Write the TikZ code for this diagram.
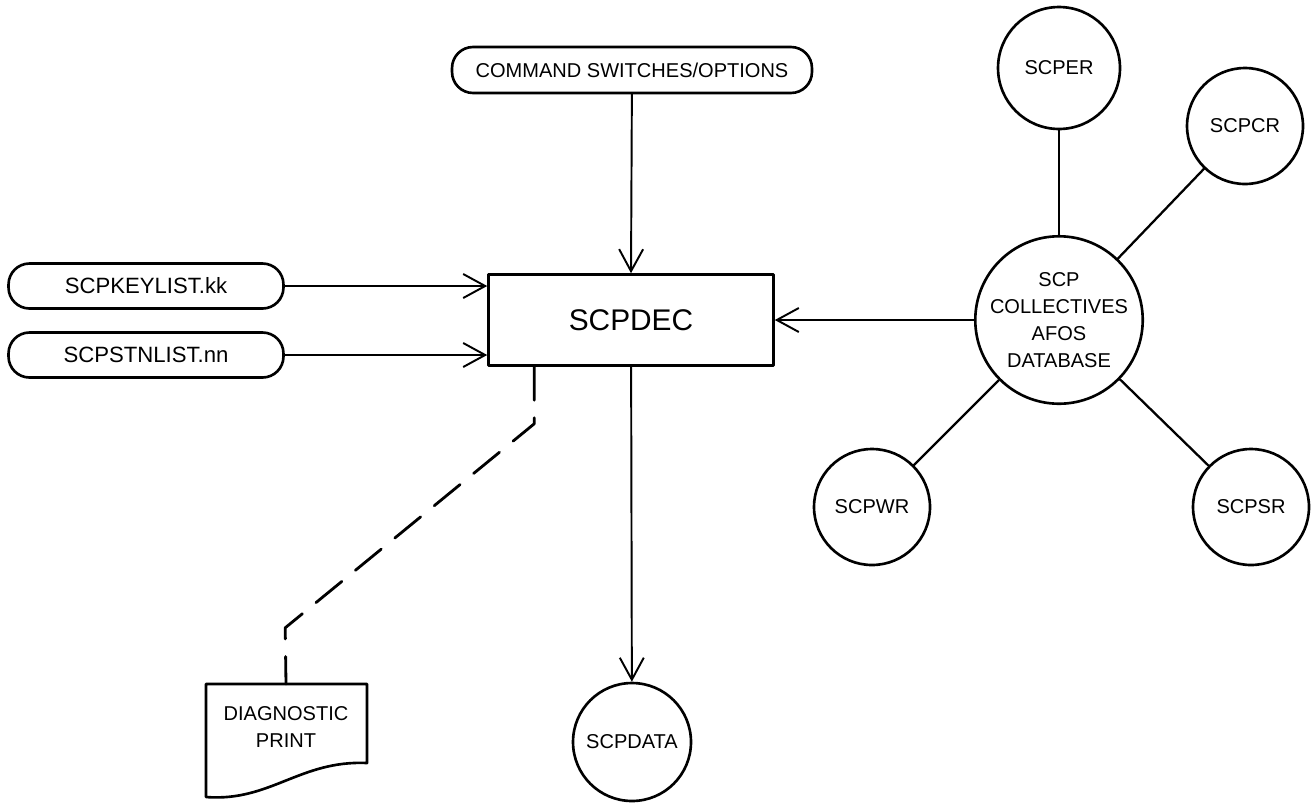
\documentclass[tikz,border=0pt]{standalone}
\usepackage{fontspec}
\setmainfont{Liberation Sans}
\usetikzlibrary{arrows.meta}
\begin{document}
\begin{tikzpicture}[x=0.02cm, y=-0.02cm, line join=round, line cap=round,
		>={Straight Barb[length=4.4mm,width=4.8mm]},
		every node/.style={font=\fontsize{11.4pt}{15.4pt}\selectfont, align=center, inner sep=0pt},
		pill/.style={draw, line width=1.5pt, rounded corners=0.42cm, minimum width=5.5cm, minimum height=0.9cm,
			font=\fontsize{12.6pt}{15pt}\selectfont},
		proc/.style={draw, line width=1.5pt, minimum width=5.7cm, minimum height=1.82cm, font=\fontsize{17pt}{20pt}\selectfont},
		store/.style={draw, circle, line width=1.5pt, minimum size=2.32cm},
		flow/.style={->, line width=1.1pt},
		link/.style={line width=1.3pt}]
		\useasboundingbox (0,0) rectangle (1311,802);
		% inputs and the decoder
		\node[pill, minimum width=7.2cm, minimum height=0.92cm, font=\fontsize{11.4pt}{15pt}\selectfont] (cmd) at (632,70) {COMMAND SWITCHES/OPTIONS};
		\node[pill] (keylist) at (146,286) {SCPKEYLIST.kk};
		\node[pill] (stnlist) at (146,355) {SCPSTNLIST.nn};
		\node[proc] (dec) at (631,320) {SCPDEC};
		% database and its files
		\node[store, minimum size=3.28cm] (db) at (1059,320) {SCP\\COLLECTIVES\\AFOS\\DATABASE};
		\node[store, minimum size=2.44cm] (er) at (1059,68) {SCPER};
		\node[store] (cr) at (1245,126) {SCPCR};
		\node[store] (wr) at (872,507) {SCPWR};
		\node[store] (sr) at (1251,507) {SCPSR};
		% outputs
		\node[store, minimum size=2.36cm] (data) at (632,742) {SCPDATA};
		\node (diag) at (286,727) {DIAGNOSTIC\\PRINT};
		\draw[line width=1.5pt] (206,684) -- (367,684) -- (367,763)
			.. controls (300,760) and (270,802) .. (206,797) -- cycle;
		\coordinate (printin) at (286,684);
		% connectors
		\draw[flow] (cmd) -- (dec.north);
		\draw[flow] (keylist) -- (keylist -| dec.west);
		\draw[flow] (stnlist) -- (stnlist -| dec.west);
		\draw[flow] (db) -- (dec);
		\draw[flow] (dec) -- (data);
		\foreach \f in {er,cr,wr,sr} \draw[link] (db) -- (\f);
		\draw[line width=1.6pt, dash pattern=on 19pt off 10pt] ([xshift=0.94cm]dec.south west)
			-- ++(0,57) -- ++(-249,204) -- (printin);
\end{tikzpicture}
\end{document}
